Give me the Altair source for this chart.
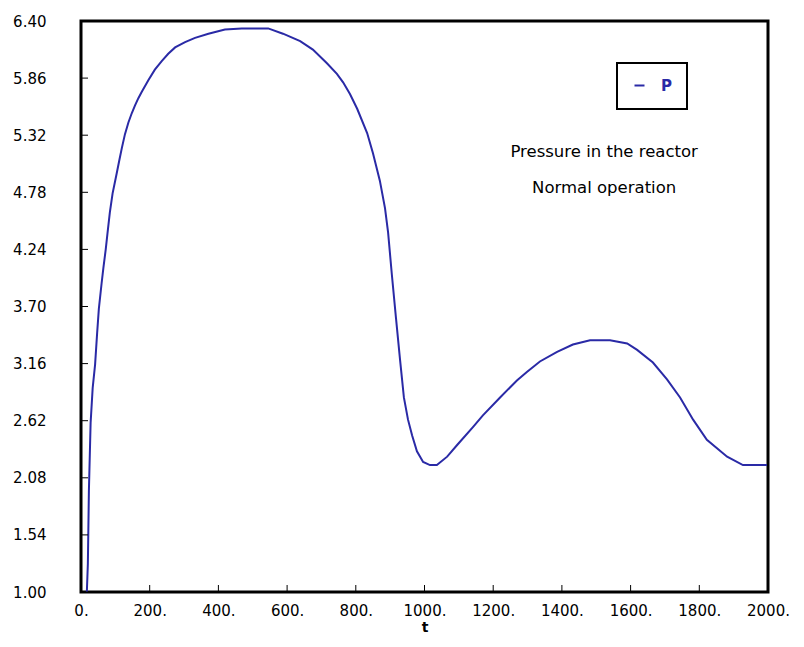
import altair as alt
import pandas as pd

t_values = [17, 20, 23, 28, 34, 41, 47, 52, 60, 65,
            72, 77, 84, 92, 104, 112, 119, 128, 138, 148,
            157, 167, 177, 196, 215, 235, 254, 274, 303, 332,
            371, 419, 468, 545, 588, 638, 675, 716, 745, 763,
            783, 804, 833, 850, 870, 885, 894, 905, 917, 929,
            940, 952, 964, 978, 996, 1016, 1036, 1066, 1095, 1141,
            1170, 1220, 1269, 1298, 1336, 1386, 1432, 1482, 1540, 1590,
            1619, 1665, 1706, 1744, 1782, 1822, 1881, 1927, 1997]
p_values = [1.00, 1.27, 1.96, 2.60, 2.93, 3.15, 3.45, 3.68, 3.92, 4.06,
            4.24, 4.39, 4.59, 4.77, 4.96, 5.09, 5.20, 5.33, 5.44, 5.53,
            5.60, 5.67, 5.73, 5.84, 5.94, 6.02, 6.09, 6.15, 6.20, 6.24,
            6.28, 6.32, 6.33, 6.33, 6.28, 6.21, 6.13, 6.00, 5.90, 5.82,
            5.71, 5.57, 5.34, 5.15, 4.89, 4.63, 4.40, 4.00, 3.59, 3.19,
            2.84, 2.63, 2.48, 2.33, 2.23, 2.20, 2.20, 2.28, 2.39, 2.56,
            2.67, 2.84, 3.00, 3.08, 3.18, 3.27, 3.34, 3.38, 3.38, 3.35,
            3.29, 3.17, 3.01, 2.84, 2.63, 2.44, 2.28, 2.20, 2.20]
series_name = "P"
y_ticks = [1.00, 1.54, 2.08, 2.62, 3.16, 3.70, 4.24, 4.78, 5.32, 5.86, 6.40]
x_ticks = [0, 200, 400, 600, 800, 1000, 1200, 1400, 1600, 1800, 2000]
annotation_lines = ["Pressure in the reactor", "Normal operation"]
annotation_t = [1523, 1523]
annotation_p = [5.16, 4.82]

BLUE = "#2a2aa6"
FONT = "DejaVu Sans"

df = pd.DataFrame({"t": t_values, "P": p_values, "series": [series_name] * len(t_values)})
ytick_df = pd.DataFrame({"t": [0] * len(y_ticks), "P": y_ticks})
xtick_df = pd.DataFrame({"t": x_ticks, "P": [1.0] * len(x_ticks)})
ann_df = pd.DataFrame({"label": annotation_lines, "t": annotation_t, "P": annotation_p})

x_scale = alt.Scale(domain=[0, 2000], nice=False, zero=False)
y_scale = alt.Scale(domain=[1.0, 6.4], nice=False, zero=False)

x_axis = alt.Axis(values=x_ticks, labelExpr="datum.value + '.'", title="t",
                  labelPadding=11, titlePadding=2, labelFlush=False, labelOverlap=False)
y_axis = alt.Axis(values=y_ticks, format=".2f", title=None,
                  labelPadding=35, labelFlush=False, labelOverlap=False)

line = alt.Chart(df).mark_line(strokeWidth=2).encode(
    x=alt.X("t:Q", scale=x_scale, axis=x_axis),
    y=alt.Y("P:Q", scale=y_scale, axis=y_axis),
    color=alt.Color("series:N", scale=alt.Scale(domain=[series_name], range=[BLUE]),
                    legend=alt.Legend(title=None, orient="none", legendX=536, legendY=42,
                                      symbolType="stroke", symbolStrokeWidth=2, symbolSize=100,
                                      labelColor=BLUE, labelFont=FONT, labelFontSize=15,
                                      labelFontWeight="bold", padding=15, labelOffset=14,
                                      strokeColor="black", fillColor="white")),
)

ytick_rules = alt.Chart(ytick_df).mark_rule(color="black", strokeWidth=1).encode(
    y=alt.Y("P:Q", scale=y_scale, axis=y_axis), x=alt.value(0), x2=alt.value(7))

xtick_rules = alt.Chart(xtick_df).mark_rule(color="black", strokeWidth=1).encode(
    x=alt.X("t:Q", scale=x_scale, axis=x_axis), y=alt.value(571), y2=alt.value(564))

text = alt.Chart(ann_df).mark_text(font=FONT, fontSize=16.5, color="black",
                                    align="center", baseline="middle").encode(
    x=alt.X("t:Q", scale=x_scale, axis=x_axis),
    y=alt.Y("P:Q", scale=y_scale, axis=y_axis),
    text="label:N")

chart = alt.layer(line, ytick_rules, xtick_rules, text).properties(
    width=687, height=571,
    padding={"left": 73, "top": 13, "right": 28, "bottom": 47},
    autosize=alt.AutoSizeParams(type="none"),
    background="white",
).configure_view(
    stroke="black", strokeWidth=3
).configure_axis(
    domain=False, ticks=False, tickSize=0, grid=False,
    labelFont=FONT, labelFontSize=15, labelColor="black",
    titleFont=FONT, titleFontSize=14, titleFontWeight="bold", titleColor="black",
).configure_legend(
    strokeWidth=2
)

chart.save("out.html", embed_options={"renderer": "svg", "actions": False})
